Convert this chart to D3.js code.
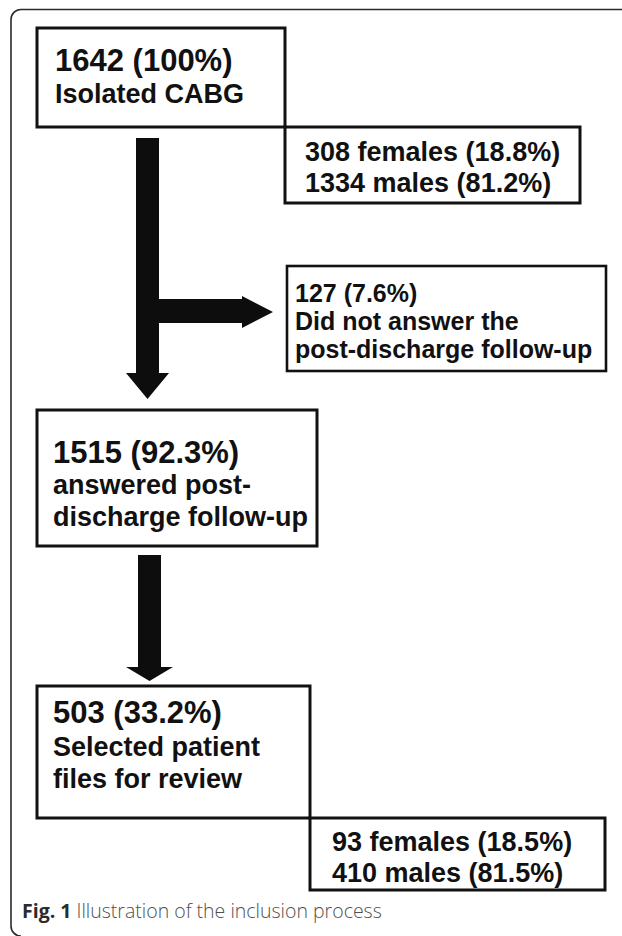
<!DOCTYPE html>
<html>
<head>
<meta charset="utf-8">
<script src="https://cdn.jsdelivr.net/npm/d3@7"></script>
<style>
  html, body { margin: 0; padding: 0; background: #fff; }
  svg { display: block; }
</style>
</head>
<body>
<svg id="chart" width="622" height="936"></svg>
<script>
// flow stages (main column + drop-out box)
var stageCounts   = [1642, 127, 1515, 503];
var stagePercents = ['100%', '7.6%', '92.3%', '33.2%'];
var stageLabels   = [
  ['Isolated CABG'],
  ['Did not answer the', 'post-discharge follow-up'],
  ['answered post-', 'discharge follow-up'],
  ['Selected patient', 'files for review']
];
// sex split of the full cohort and of the reviewed files
var sexGroups   = ['females', 'males'];
var sexCounts   = [[308, 1334], [93, 410]];
var sexPercents = [['18.8%', '81.2%'], ['18.5%', '81.5%']];
var captionBold = 'Fig. 1';
var captionText = ' Illustration of the inclusion process';

var svg = d3.select('#chart');
var FONT = '"Liberation Sans", Arial, sans-serif';

// outer figure frame (open on the right)
svg.append('path')
  .attr('d', 'M622,9.5 H21 A10,10 0 0 0 11,19.5 V926 A10,10 0 0 0 21,936')
  .attr('fill', 'none')
  .attr('stroke', '#2a2a2a')
  .attr('stroke-width', 1.6);

function addBox(x, y, w, h, sw){
  svg.append('rect')
    .attr('x', x).attr('y', y).attr('width', w).attr('height', h)
    .attr('fill', '#fff')
    .attr('stroke', '#111')
    .attr('stroke-width', sw || 3);
}

function addText(x, y, str, size){
  svg.append('text')
    .attr('x', x).attr('y', y)
    .attr('font-family', FONT)
    .attr('font-weight', 'bold')
    .attr('font-size', size)
    .attr('fill', '#111')
    .text(str);
}

var arrowLine = d3.line();
function addArrow(pts){
  svg.append('path')
    .attr('d', arrowLine(pts) + 'Z')
    .attr('fill', '#0d0d0d');
}

// layout of the stage boxes
var stageBoxes = [
  {x: 37,  y: 28,  w: 248, h: 99,  tx: 55,  ty: 71,  gap: [32],     fs: [31, 27]},
  {x: 287, y: 266, w: 319, h: 105, tx: 295, ty: 302, gap: [28, 28], fs: [25, 25, 25]},
  {x: 37,  y: 410, w: 280, h: 136, tx: 53,  ty: 463, gap: [31, 32], fs: [31, 27, 27]},
  {x: 37,  y: 686, w: 273, h: 132, tx: 53,  ty: 723, gap: [33, 32], fs: [31, 27, 27]}
];
var sexBoxes = [
  {x: 285, y: 127, w: 295, h: 76, tx: 305, ty: 161, gap: 31, fs: 27},
  {x: 310, y: 818, w: 295, h: 72, tx: 332, ty: 851, gap: 31, fs: 27}
];

stageCounts.forEach(function(c, i){
  var b = stageBoxes[i];
  addBox(b.x, b.y, b.w, b.h, i === 1 ? 2.6 : 3);
  var lines = [c + ' (' + stagePercents[i] + ')'].concat(stageLabels[i]);
  var y = b.ty;
  lines.forEach(function(l, j){
    if (j > 0) y += b.gap[j - 1];
    addText(b.tx, y, l, b.fs[j]);
  });
});

sexCounts.forEach(function(pair, i){
  var b = sexBoxes[i];
  addBox(b.x, b.y, b.w, b.h, 3);
  pair.forEach(function(n, j){
    addText(b.tx, b.ty + j * b.gap, n + ' ' + sexGroups[j] + ' (' + sexPercents[i][j] + ')', b.fs);
  });
});

// arrows
addArrow([[136,138],[159,138],[159,299],[242,299],[242,296],[273,312],[242,328],[242,323],[159,323],
          [159,373],[169,373],[147.5,399],[126,373],[136,373]]);
addArrow([[138,555],[161,555],[161,667],[173,667],[149.5,681],[126,667],[138,667]]);

// caption
var cap = svg.append('text')
  .attr('x', 22).attr('y', 918)
  .attr('font-family', '"Open Sans", "Noto Sans", sans-serif')
  .attr('font-size', 19.5);
cap.append('tspan').attr('font-weight', 'bold').attr('fill', '#2b2b2b').text(captionBold);
cap.append('tspan').attr('fill', '#505050').attr('font-weight', 300).text(captionText);
</script>
</body>
</html>
